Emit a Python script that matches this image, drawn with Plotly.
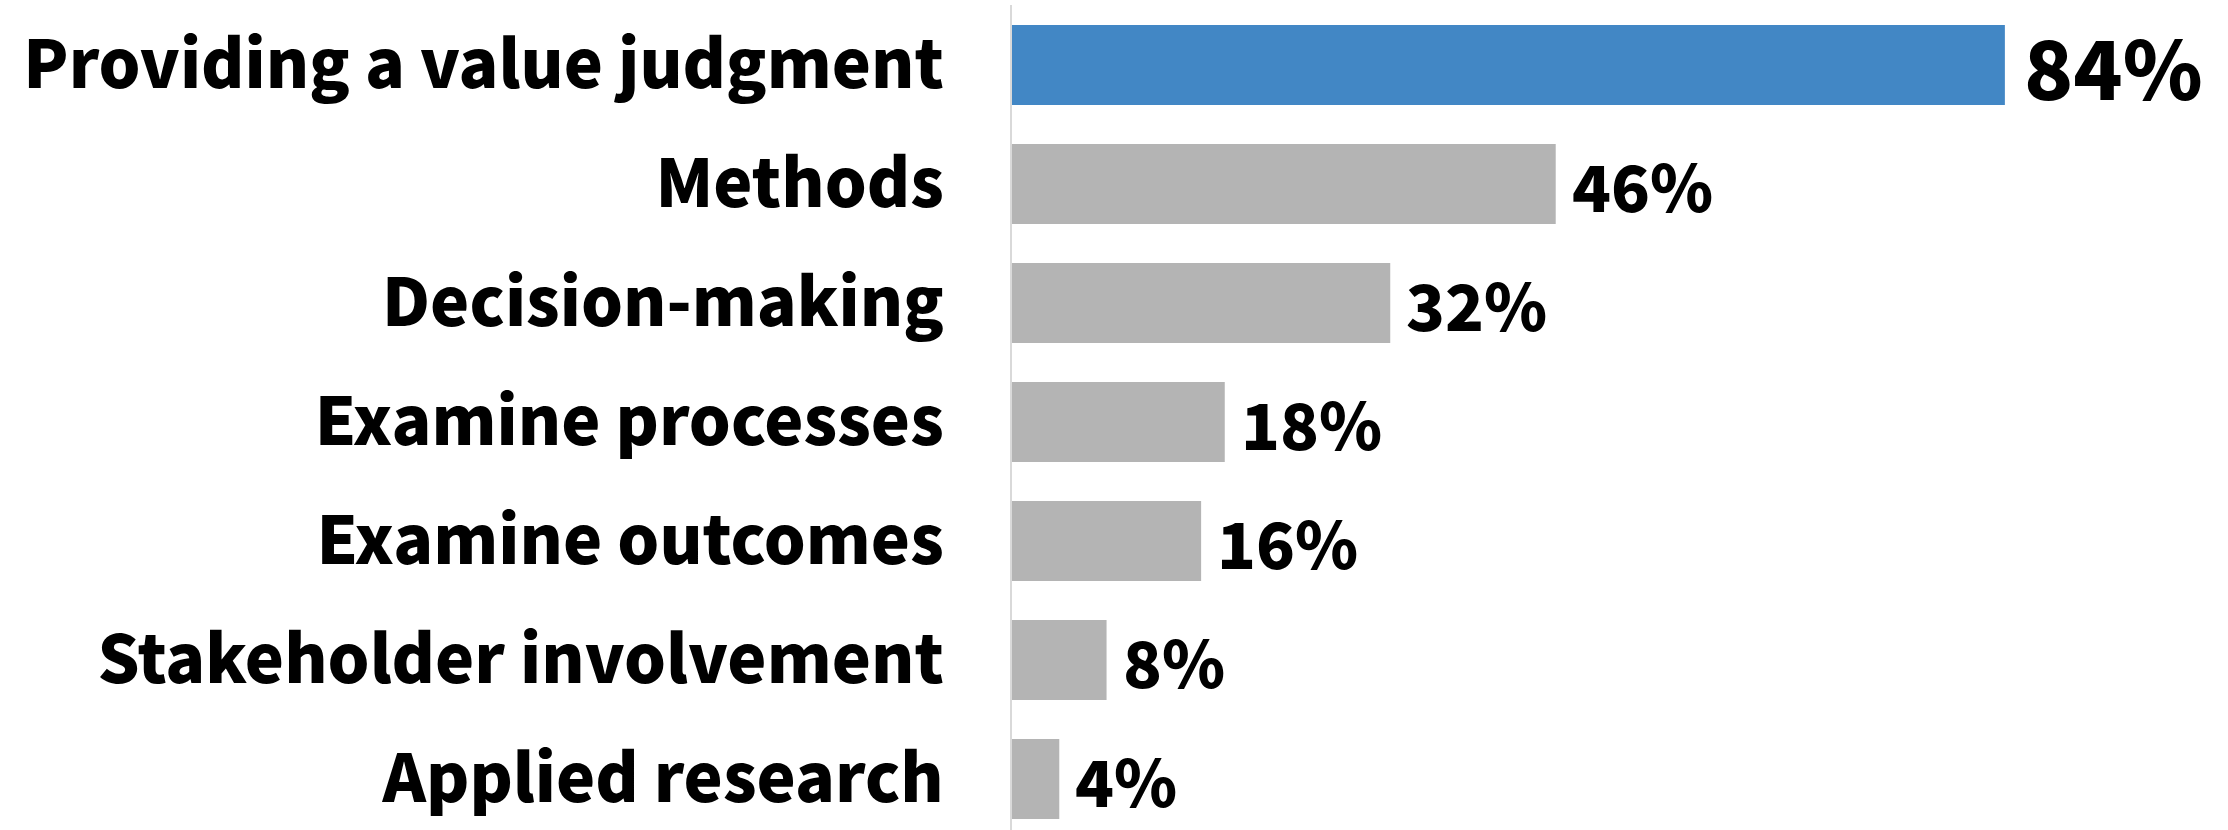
import plotly.graph_objects as go

# Share of responses by theme
categories = [
    "Providing a value judgment",
    "Methods",
    "Decision-making",
    "Examine processes",
    "Examine outcomes",
    "Stakeholder involvement",
    "Applied research",
]
values = [84, 46, 32, 18, 16, 8, 4]

HIGHLIGHT = "#4287c5"
BASE = "#b4b4b4"
colors = [HIGHLIGHT if i == 0 else BASE for i in range(len(values))]

FONT = "Noto Sans CJK SC"

fig = go.Figure(
    go.Bar(
        x=values,
        y=categories,
        orientation="h",
        marker=dict(color=colors, line=dict(width=0)),
        width=0.672,
        hoverinfo="skip",
    )
)

# Value labels just past the end of each bar; the leading one is larger
for i, (cat, v) in enumerate(zip(categories, values)):
    fig.add_annotation(
        x=v,
        y=cat,
        text=f"{v}%",
        showarrow=False,
        xanchor="left",
        yanchor="middle",
        xshift=17 if i == 0 else 14,
        font=dict(family=FONT, size=81 if i == 0 else 64, color="black", weight=900),
    )

fig.update_layout(
    width=2228,
    height=830,
    margin=dict(l=1012, r=34, t=5, b=0, autoexpand=False),
    paper_bgcolor="white",
    plot_bgcolor="white",
    showlegend=False,
    xaxis=dict(
        range=[0, 100],
        visible=False,
        fixedrange=True,
    ),
    yaxis=dict(
        type="category",
        range=[6.429, -0.504],
        showline=True,
        linecolor="#d9d9d9",
        linewidth=2,
        showgrid=False,
        zeroline=False,
        ticks="",
        automargin=False,
        ticklabelstandoff=53,
        tickfont=dict(family=FONT, size=66, color="black", weight=900),
        fixedrange=True,
    ),
)

fig.write_html("out.html")
